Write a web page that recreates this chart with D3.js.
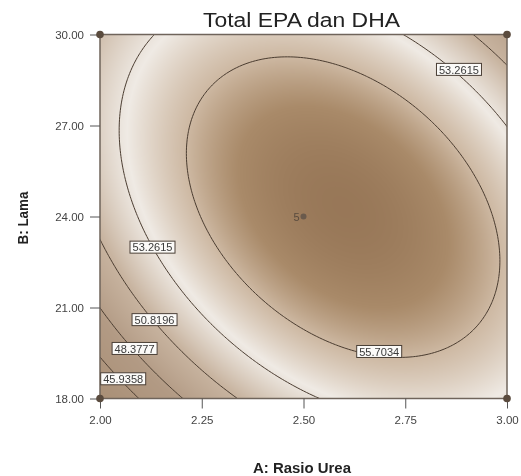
<!DOCTYPE html>
<html><head><meta charset="utf-8">
<script src="https://cdn.jsdelivr.net/npm/d3@7"></script>
<style>
body{margin:0;background:#fff;}
#wrap{position:relative;width:521px;height:476px;}
canvas,svg{position:absolute;left:0;top:0;}
text{font-family:"Liberation Sans",Arial,sans-serif;}
</style></head><body><div id="wrap"><canvas id="bg" width="521" height="476"></canvas><svg id="chart" width="521" height="476"></svg></div>
<script>
// ---- data ----
const chartTitle="Total EPA dan DHA";
const xTitle="A: Rasio Urea";
const yTitle="B: Lama";
const xTicks=[2.00,2.25,2.50,2.75,3.00];
const yTicks=[18.00,21.00,24.00,27.00,30.00];
const contourLevels=[45.9358,48.3777,50.8196,53.2615,55.7034];
// quadratic response model, coded a=(A-2.5)/0.5, b=(B-24)/6 ; terms: 1, a, b, ab, a^2, b^2
const modelCoef=[57.836,1.920,0.994,-3.020,-4.530,-3.942];
// contour label annotations (value, A, B)
const labelValue=[53.2615,53.2615,50.8196,48.3777,45.9358,55.7034];
const labelA=[2.882,2.129,2.134,2.085,2.057,2.686];
const labelB=[28.85,22.99,20.60,19.65,18.65,19.55];
// design points
const designA=[2.5,2.0,2.0,3.0,3.0];
const designB=[24,18,30,30,18];
const designLabel=["5","","","",""];
// colour ramp
const colorStops=[43,48,51,53.6,55.7,57,58.4];
const colorVals=["#a88e74","#b29a84","#c8b4a0","#efeae4","#cdb8a2","#a98a69","#927152"];

const W=521,H=476;
const x=d3.scaleLinear().domain([2,3]).range([100,507]);
const y=d3.scaleLinear().domain([18,30]).range([398.5,34.5]);
function model(A,B){const a=(A-2.5)/0.5,b=(B-24)/6;const t=[1,a,b,a*b,a*a,b*b];return d3.sum(t,(v,i)=>v*modelCoef[i]);}
const col=d3.scaleLinear().domain(colorStops).range(colorVals).clamp(true);

// shaded surface
const ctx=document.getElementById('bg').getContext('2d');
const img=ctx.createImageData(W,H);
for(let py=35;py<399;py++)for(let px=100;px<507;px++){
  const c=d3.rgb(col(model(x.invert(px+0.5),y.invert(py+0.5))));
  const o=(py*W+px)*4;img.data[o]=c.r;img.data[o+1]=c.g;img.data[o+2]=c.b;img.data[o+3]=255;}
ctx.putImageData(img,0,0);

const svg=d3.select('#chart');
svg.append('clipPath').attr('id','clip').append('rect').attr('x',100).attr('y',34.5).attr('width',407).attr('height',364);
const nx=141,ny=141,A0=1.95,A1=3.05,B0=17.4,B1=30.6;
const sA=(A1-A0)/(nx-1),sB=(B1-B0)/(ny-1);
const grid=new Array(nx*ny);
for(let j=0;j<ny;j++)for(let i=0;i<nx;i++)grid[i+j*nx]=model(A0+i*sA,B0+j*sB);
const proj=d3.geoTransform({point:function(px,py){this.stream.point(x(A0+(px-0.5)*sA),y(B0+(py-0.5)*sB));}});
const path=d3.geoPath(proj);
svg.append('g').attr('clip-path','url(#clip)').selectAll('path')
 .data(d3.contours().size([nx,ny]).thresholds(contourLevels)(grid))
 .enter().append('path').attr('d',path).attr('fill','none').attr('stroke','#4a3c30').attr('stroke-width',1);

// frame
svg.append('rect').attr('x',100).attr('y',34.5).attr('width',407).attr('height',364)
 .attr('fill','none').attr('stroke','#6f645b').attr('stroke-width',1.5);

// axes
const fmt=d3.format(".2f");
const gy=svg.append('g').attr('transform','translate(100,0)')
 .call(d3.axisLeft(y).tickValues(yTicks).tickFormat(fmt).tickSize(10).tickPadding(6));
gy.select('.domain').remove();
gy.selectAll('line').attr('stroke','#555');
gy.selectAll('text').attr('font-size',11.5).attr('fill','#444').attr('font-family','Liberation Sans');
const gx=svg.append('g').attr('transform','translate(0,398.5)')
 .call(d3.axisBottom(x).tickValues(xTicks).tickFormat(fmt).tickSize(10).tickPadding(6));
gx.select('.domain').remove();
gx.selectAll('line').attr('stroke','#555');
gx.selectAll('text').attr('font-size',11.5).attr('fill','#444').attr('font-family','Liberation Sans').attr('y',25.5).attr('dy',0);

// design points
svg.selectAll('circle.dp').data(designA).enter().append('circle').attr('class','dp')
 .attr('cx',d=>x(d)).attr('cy',(d,i)=>y(designB[i])).attr('r',(d,i)=>designLabel[i]?3:3.8)
 .attr('fill',(d,i)=>designLabel[i]?'#6a5a4c':'#5a4b3e');
svg.selectAll('text.dl').data(designA).enter().append('text').attr('class','dl')
 .attr('x',d=>x(d)-4).attr('y',(d,i)=>y(designB[i])+4).attr('text-anchor','end')
 .attr('font-size',11).attr('fill','#5a4b3e').text((d,i)=>designLabel[i]);

// contour labels
const lg=svg.append('g');
labelValue.forEach((v,i)=>{
  const cx=x(labelA[i]),cy=y(labelB[i]);
  const g=lg.append('g');
  g.append('rect').attr('x',cx-22.5).attr('y',cy-6).attr('width',45).attr('height',12)
   .attr('fill','#fbfaf8').attr('stroke','#4a3f36').attr('stroke-width',1);
  g.append('text').attr('x',cx).attr('y',cy+4.2).attr('text-anchor','middle').attr('font-size',11)
   .attr('fill','#3a3a3a').attr('textLength',40).attr('lengthAdjust','spacingAndGlyphs').text(v.toFixed(4));
});

// titles
svg.append('text').attr('x',301.5).attr('y',26.5).attr('text-anchor','middle').attr('font-size',20)
 .attr('fill','#222').attr('textLength',197).attr('lengthAdjust','spacingAndGlyphs').text(chartTitle);
svg.append('text').attr('x',302).attr('y',473).attr('text-anchor','middle').attr('font-size',14)
 .attr('font-weight','bold').attr('fill','#222').attr('textLength',98).attr('lengthAdjust','spacingAndGlyphs').text(xTitle);
svg.append('text').attr('transform','translate(27.5,218) rotate(-90)').attr('text-anchor','middle').attr('font-size',14)
 .attr('font-weight','bold').attr('fill','#222').attr('textLength',53).attr('lengthAdjust','spacingAndGlyphs').text(yTitle);
</script></body></html>
